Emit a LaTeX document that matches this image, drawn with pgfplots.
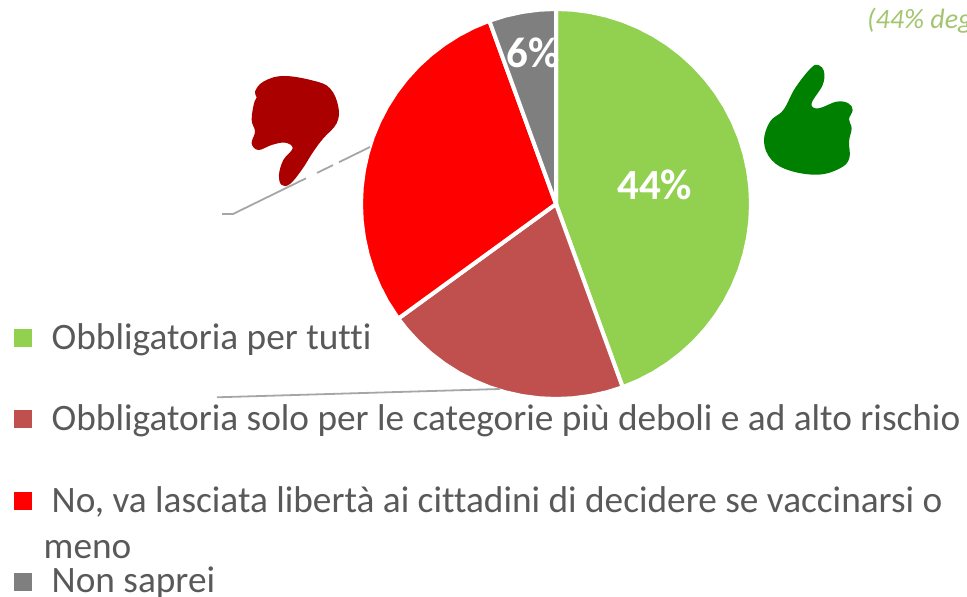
\documentclass[border=0pt]{standalone}
\usepackage{fontspec}
\setmainfont{Carlito}[Ligatures=NoCommon]
\usepackage{pgfplots}
\pgfplotsset{compat=1.18}
\definecolor{pgreen}{HTML}{92D050}
\definecolor{pbrick}{HTML}{C0504D}
\definecolor{pred}{HTML}{FF0000}
\definecolor{pgrey}{HTML}{7F7F7F}
\definecolor{ltext}{HTML}{595959}
\definecolor{lead}{HTML}{A6A6A6}
\definecolor{tgreen}{HTML}{A4C56F}
\begin{document}
\begin{tikzpicture}
\clip (0pt,0pt) rectangle (967pt,597pt);
\begin{axis}[
    hide axis,
    scale only axis,
    width=967pt,
    height=597pt,
    xmin=-556, xmax=411,
    ymin=-393, ymax=204,
    clip=false,
]
% pie wedges, angle and radius
\addplot[fill=pgreen, draw=white, line width=4pt, data cs=polar] coordinates {
  (0,0) (90,195) (85,195) (80,195) (75,195) (70,195) (65,195) (60,195) (55,195)
  (50,195) (45,195) (40,195) (35,195) (30,195) (25,195) (20,195) (15,195) (10,195)
  (5,195) (0,195) (-5,195) (-10,195) (-15,195) (-20,195) (-25,195) (-30,195)
  (-35,195) (-40,195) (-45,195) (-50,195) (-55,195) (-60,195) (-65,195) (-70,195) (0,0)};
\addplot[fill=pbrick, draw=white, line width=4pt, data cs=polar] coordinates {
  (0,0) (-70,195) (-75,195) (-80,195) (-85,195) (-90,195) (-95,195) (-100,195)
  (-105,195) (-110,195) (-115,195) (-120,195) (-125,195) (-130,195) (-135,195)
  (-140,195) (-144,195) (0,0)};
\addplot[fill=pred, draw=white, line width=4pt, data cs=polar] coordinates {
  (0,0) (216,195) (210,195) (205,195) (200,195) (195,195) (190,195) (185,195)
  (180,195) (175,195) (170,195) (165,195) (160,195) (155,195) (150,195) (145,195)
  (140,195) (135,195) (130,195) (125,195) (120,195) (115,195) (110,195) (0,0)};
\addplot[fill=pgrey, draw=white, line width=4pt, data cs=polar] coordinates {
  (0,0) (110,195) (105,195) (100,195) (95,195) (90,195) (0,0)};
% legend keys
\addplot[only marks, color=pgreen, mark=square*, mark size=8.5pt, mark options={line width=0pt}] coordinates {(-533,-134)};
\addplot[only marks, color=pbrick, mark=square*, mark size=8.5pt, mark options={line width=0pt}] coordinates {(-533,-215)};
\addplot[only marks, color=pred, mark=square*, mark size=8.5pt, mark options={line width=0pt}] coordinates {(-533,-297)};
\addplot[only marks, color=pgrey, mark=square*, mark size=8.5pt, mark options={line width=0pt}] coordinates {(-533,-378)};
\end{axis}

% everything below in reference pixels, y downwards
\begin{scope}[shift={(0pt,597pt)}, x=1pt, y=-1pt]
  \draw[lead, line width=1.8pt] (222,214) -- (233,214) -- (306,178.3);
  \draw[lead, line width=1.8pt] (317,172.9) -- (333,165.1);
  \draw[lead, line width=1.8pt] (339,162.2) -- (370,147);
  \draw[lead, line width=1.8pt] (217,397.3) -- (500,389);

  \node[anchor=base west, inner sep=0pt, text=white, font=\fontsize{43}{43}\selectfont\bfseries] at (617,200) {44\%};
  \node[anchor=base west, inner sep=0pt, text=white, font=\fontsize{43}{43}\selectfont\bfseries] at (506,68) {6\%};
  \node[anchor=base west, inner sep=0pt, text=tgreen, font=\fontsize{28}{28}\selectfont\itshape] at (867,29) {(44\% deg};

  \node[anchor=base west, inner sep=0pt, text=ltext, font=\fontsize{37.3}{37.3}\selectfont] at (51.5,349.5) {Obbligatoria per tutti};
  \node[anchor=base west, inner sep=0pt, text=ltext, font=\fontsize{37.3}{37.3}\selectfont] at (51.5,430.5) {Obbligatoria solo per le categorie più deboli e ad alto rischio};
  \node[anchor=base west, inner sep=0pt, text=ltext, font=\fontsize{37.3}{37.3}\selectfont] at (51.5,512.5) {No, va lasciata libertà ai cittadini di decidere se vaccinarsi o};
  \node[anchor=base west, inner sep=0pt, text=ltext, font=\fontsize{37.3}{37.3}\selectfont] at (43.5,558.5) {meno};
  \node[anchor=base west, inner sep=0pt, text=ltext, font=\fontsize{37.3}{37.3}\selectfont] at (51.5,593) {Non saprei};
\end{scope}

% thumb down
\begin{scope}[shift={(200pt,537pt)}, x=0.3333pt, y=-0.3333pt]
  \fill[fill={rgb,255:red,170;green,0;blue,0}] plot[smooth cycle, tension=0.65] coordinates {
    (165,95) (190,65) (250,48) (340,62) (390,85) (415,140) (410,190) (370,235)
    (340,275) (305,330) (270,372) (245,375) (237,345) (250,300) (278,265) (255,248)
    (215,255) (175,270) (155,250) (165,215) (155,180) (162,130) (170,112)};
\end{scope}
% thumb up
\begin{scope}[shift={(740pt,597pt)}, x=0.3333pt, y=-0.3333pt]
  \fill[fill={rgb,255:red,0;green,128;blue,0}] plot[smooth cycle, tension=0.65] coordinates {
    (235,195) (252,215) (248,255) (215,310) (235,325) (290,305) (325,310) (338,330)
    (327,358) (335,385) (327,425) (328,475) (300,505) (235,524) (150,512) (95,480)
    (72,425) (90,365) (130,330) (165,265) (212,205)};
\end{scope}
\end{tikzpicture}
\end{document}
